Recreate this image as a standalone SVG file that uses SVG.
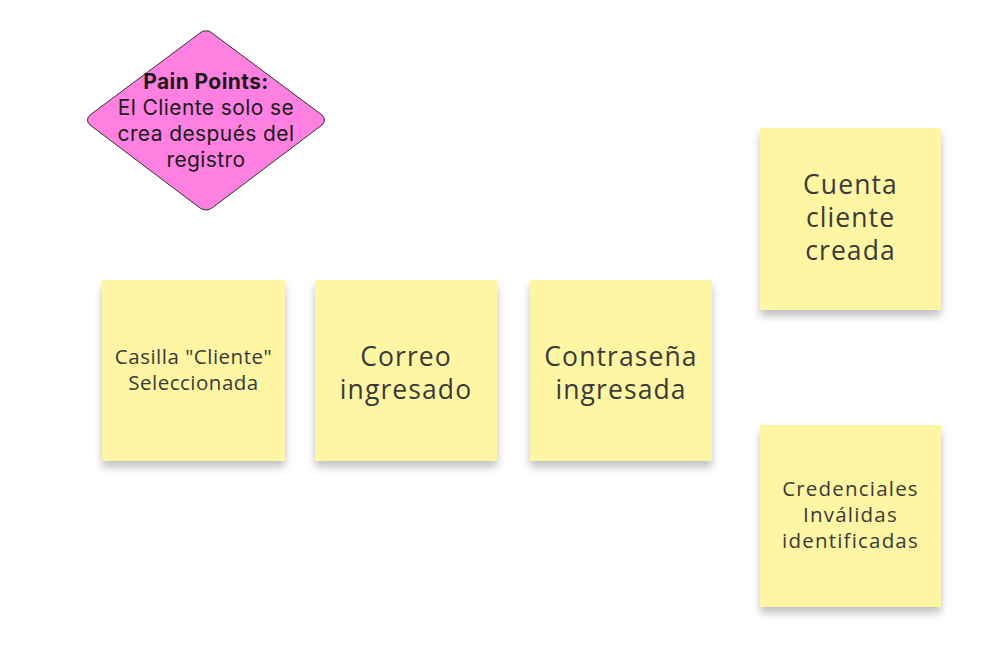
<svg xmlns="http://www.w3.org/2000/svg" width="987" height="657" viewBox="0 0 987 657">
<defs>
<filter id="sh" x="-20%" y="-20%" width="140%" height="150%">
<feGaussianBlur in="SourceAlpha" stdDeviation="4"/>
<feOffset dx="0" dy="6" result="b"/>
<feComponentTransfer><feFuncA type="linear" slope="0.25"/></feComponentTransfer>
<feMerge><feMergeNode/><feMergeNode in="SourceGraphic"/></feMerge>
</filter>
</defs>
<style>
.note{fill:#fff6a3;filter:url(#sh)}
.t{font-family:"Open Sans","Liberation Sans",sans-serif;fill:#3a3a3a;text-anchor:middle}
.big{font-size:26.5px;letter-spacing:1.1px}
.sm{font-size:20.5px;letter-spacing:0.5px}
.wide{letter-spacing:1.2px}
.d{font-family:Inter,"Liberation Sans",sans-serif;fill:#1a1a1a;text-anchor:middle;font-size:21px;letter-spacing:0.4px}
</style>
<rect width="987" height="657" fill="#ffffff"/>
<g id="connectors"></g>
<g id="pain">
<path d="M206,31 Q209,30 212,33 L322,115 Q327,120 322,125 L212,208 Q206,212 200,208 L90,125 Q85,120 90,115 L200,33 Q203,30 206,31 Z" fill="#ff80e0" stroke="#333" stroke-width="1"/>
<text class="d" x="206" y="89" font-weight="bold">Pain Points:</text>
<text class="d" x="206" y="115">El Cliente solo se</text>
<text class="d" x="206" y="141">crea después del</text>
<text class="d" x="206" y="167">registro</text>
</g>
<g id="casilla">
<rect class="note" x="102" y="280" width="183" height="181"/>
<text class="t sm" x="193.5" y="364">Casilla "Cliente"</text>
<text class="t sm" x="193.5" y="390">Seleccionada</text>
</g>
<g id="correo">
<rect class="note" x="315" y="280" width="182" height="181"/>
<text class="t big" x="406" y="366">Correo</text>
<text class="t big" x="406" y="399">ingresado</text>
</g>
<g id="contrasena">
<rect class="note" x="530" y="280" width="182" height="181"/>
<text class="t big" x="621" y="366">Contraseña</text>
<text class="t big" x="621" y="399">ingresada</text>
</g>
<g id="cuenta">
<rect class="note" x="760" y="128" width="181" height="182"/>
<text class="t big" x="850.5" y="194">Cuenta</text>
<text class="t big" x="850.5" y="227">cliente</text>
<text class="t big" x="850.5" y="260">creada</text>
</g>
<g id="credenciales">
<rect class="note" x="760" y="425" width="181" height="182"/>
<text class="t sm wide" x="850.5" y="496">Credenciales</text>
<text class="t sm wide" x="850.5" y="522">Inválidas</text>
<text class="t sm wide" x="850.5" y="548">identificadas</text>
</g>
</svg>
